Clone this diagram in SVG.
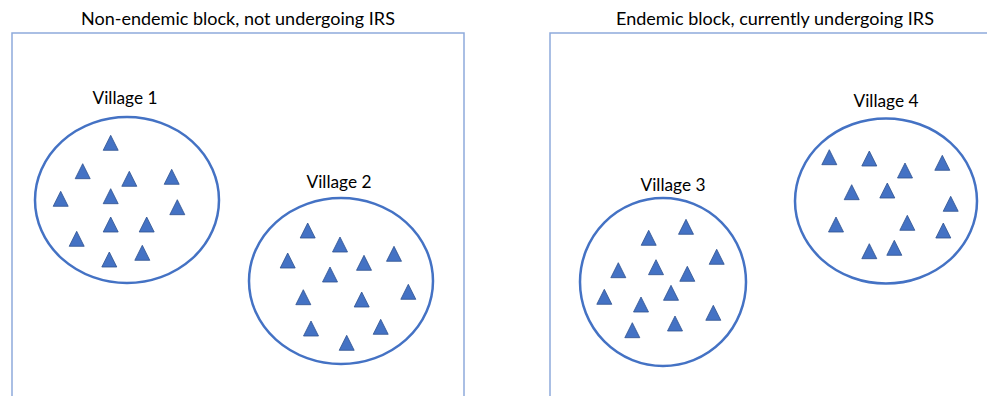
<svg xmlns="http://www.w3.org/2000/svg" xmlns:xlink="http://www.w3.org/1999/xlink" width="987" height="396" viewBox="0 0 987 396">
  <style>
    .block { fill: none; stroke: #8eaadb; stroke-width: 1.5; }
    .village { fill: #ffffff; stroke: #4472c4; stroke-width: 2.5; }
    .title { font-family: Lato, "Open Sans", "Liberation Sans", sans-serif; font-size: 18px; fill: #000; text-anchor: middle; }
    .label { font-family: Lato, "Open Sans", "Liberation Sans", sans-serif; font-size: 17.3px; fill: #000; text-anchor: middle; }
  </style>
  <defs>
    <polygon id="hh" points="0,-8 7.5,7 -7.5,7" fill="#4472c4" stroke="#2f528f" stroke-width="0.8"/>
  </defs>
  <rect width="987" height="396" fill="#ffffff"/>

  <!-- block outlines (open at the bottom) -->
  <g id="block-non-endemic">
    <path class="block" d="M12,398 V33 H464 V398"/>
    <text class="title" x="238" y="25">Non-endemic block, not undergoing IRS</text>
  </g>
  <g id="block-endemic">
    <path class="block" d="M550,398 V33 H990"/>
    <text class="title" x="775" y="25">Endemic block, currently undergoing IRS</text>
  </g>

  <g id="village-1">
    <ellipse class="village" cx="127" cy="200" rx="92" ry="83"/>
    <text class="label" x="125" y="104">Village 1</text>
    <use href="#hh" x="110.7" y="143.3"/>
    <use href="#hh" x="82.7" y="171.7"/>
    <use href="#hh" x="129.3" y="179.3"/>
    <use href="#hh" x="171.7" y="177.3"/>
    <use href="#hh" x="60.7" y="199.3"/>
    <use href="#hh" x="110.7" y="196.7"/>
    <use href="#hh" x="177.3" y="207.7"/>
    <use href="#hh" x="110.7" y="225"/>
    <use href="#hh" x="146.7" y="225"/>
    <use href="#hh" x="76.7" y="239.3"/>
    <use href="#hh" x="109.3" y="260"/>
    <use href="#hh" x="142.3" y="253.3"/>
  </g>

  <g id="village-2">
    <ellipse class="village" cx="341" cy="281" rx="92" ry="83"/>
    <text class="label" x="339" y="188">Village 2</text>
    <use href="#hh" x="307.7" y="231"/>
    <use href="#hh" x="340" y="245"/>
    <use href="#hh" x="287.7" y="261"/>
    <use href="#hh" x="364" y="263.3"/>
    <use href="#hh" x="394" y="254.3"/>
    <use href="#hh" x="330" y="275"/>
    <use href="#hh" x="303.3" y="297.7"/>
    <use href="#hh" x="361.7" y="300"/>
    <use href="#hh" x="408.3" y="292.3"/>
    <use href="#hh" x="311" y="329"/>
    <use href="#hh" x="380.7" y="327.3"/>
    <use href="#hh" x="346.7" y="343.3"/>
  </g>

  <g id="village-3">
    <ellipse class="village" cx="663" cy="282" rx="83" ry="84"/>
    <text class="label" x="673" y="191">Village 3</text>
    <use href="#hh" x="648.7" y="238.3"/>
    <use href="#hh" x="686" y="227.3"/>
    <use href="#hh" x="716.7" y="257.3"/>
    <use href="#hh" x="618.3" y="270.7"/>
    <use href="#hh" x="656" y="267.7"/>
    <use href="#hh" x="687.3" y="274.3"/>
    <use href="#hh" x="671" y="293.3"/>
    <use href="#hh" x="604.3" y="297.3"/>
    <use href="#hh" x="641" y="305"/>
    <use href="#hh" x="713.3" y="313.3"/>
    <use href="#hh" x="632.3" y="330.7"/>
    <use href="#hh" x="675" y="324"/>
  </g>

  <g id="village-4">
    <ellipse class="village" cx="886" cy="201" rx="91" ry="82.5"/>
    <text class="label" x="886" y="107">Village 4</text>
    <use href="#hh" x="829.3" y="157.7"/>
    <use href="#hh" x="869.3" y="159"/>
    <use href="#hh" x="905" y="171"/>
    <use href="#hh" x="942.3" y="163.3"/>
    <use href="#hh" x="851.7" y="192.7"/>
    <use href="#hh" x="887.3" y="191"/>
    <use href="#hh" x="950.7" y="204.3"/>
    <use href="#hh" x="836" y="225"/>
    <use href="#hh" x="907.3" y="223.3"/>
    <use href="#hh" x="943.3" y="231"/>
    <use href="#hh" x="869.3" y="251.7"/>
    <use href="#hh" x="894.3" y="248.3"/>
  </g>
</svg>
